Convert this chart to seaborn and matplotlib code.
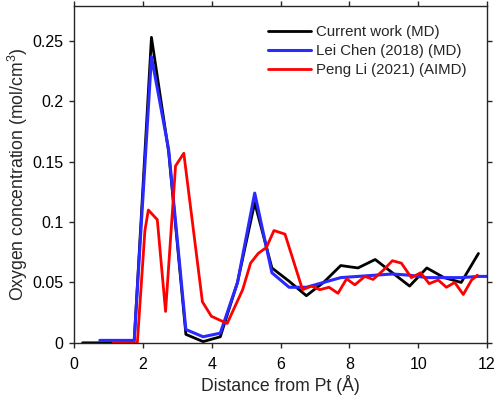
import matplotlib
matplotlib.use("Agg")
import matplotlib.pyplot as plt
import seaborn as sns
import pandas as pd

# ---- data ----
x_current = [0.25, 0.75, 1.25, 1.75, 2.25, 2.75, 3.25, 3.75, 4.25, 4.75, 5.25, 5.75,
             6.25, 6.75, 7.25, 7.75, 8.25, 8.75, 9.25, 9.75, 10.25, 10.75, 11.25, 11.75]
y_current = [0.0, 0.0, 0.0, 0.002, 0.253, 0.158, 0.007, 0.001, 0.005, 0.050, 0.116, 0.062,
             0.051, 0.039, 0.050, 0.064, 0.062, 0.069, 0.058, 0.047, 0.062, 0.054, 0.050, 0.074]

x_leichen = [0.75, 1.25, 1.75, 2.25, 2.75, 3.25, 3.75, 4.25, 4.75, 5.25, 5.75, 6.25,
             6.75, 7.25, 7.75, 8.25, 8.75, 9.25, 9.75, 10.25, 10.75, 11.25, 11.75, 12.0]
y_leichen = [0.002, 0.002, 0.002, 0.237, 0.160, 0.011, 0.005, 0.008, 0.050, 0.124, 0.058, 0.046,
             0.046, 0.050, 0.054, 0.055, 0.056, 0.057, 0.056, 0.054, 0.054, 0.054, 0.055, 0.055]

x_pengli = [1.14, 1.84, 2.06, 2.16, 2.42, 2.66, 2.95, 3.19, 3.73, 3.99, 4.45, 4.90, 5.13,
            5.35, 5.59, 5.81, 6.13, 6.64, 6.90, 7.14, 7.41, 7.67, 7.92, 8.16, 8.45, 8.69,
            8.98, 9.25, 9.51, 9.80, 10.07, 10.32, 10.58, 10.82, 11.06, 11.31, 11.55, 11.72]
y_pengli = [0.0, 0.0, 0.093, 0.110, 0.102, 0.026, 0.1465, 0.157, 0.034, 0.022, 0.016, 0.044,
            0.066, 0.074, 0.079, 0.093, 0.090, 0.044, 0.047, 0.044, 0.046, 0.041, 0.053, 0.048,
            0.055, 0.0525, 0.060, 0.068, 0.066, 0.054, 0.058, 0.049, 0.052, 0.046, 0.050, 0.040,
            0.052, 0.056]

series_labels = ["Current work (MD)", "Lei Chen (2018) (MD)", "Peng Li (2021) (AIMD)"]
series_colors = ["#000000", "#2a2aff", "#ff0000"]

x_ticks = [0, 2, 4, 6, 8, 10, 12]
y_ticks = [0, 0.05, 0.1, 0.15, 0.2, 0.25]
y_ticklabels = ["0", "0.05", "0.1", "0.15", "0.2", "0.25"]

# ---- style ----
sns.set_theme(style="ticks")
plt.rcParams["font.family"] = ["Liberation Sans", "DejaVu Sans"]
plt.rcParams["mathtext.fontset"] = "custom"
plt.rcParams["mathtext.rm"] = "Liberation Sans"
plt.rcParams["mathtext.it"] = "Liberation Sans"
plt.rcParams["axes.linewidth"] = 1.0
plt.rcParams["xtick.direction"] = "out"
plt.rcParams["ytick.direction"] = "out"

fig = plt.figure(figsize=(4.98, 3.97), dpi=100)
ax = fig.add_axes([0.1486, 0.1365, 0.8294, 0.8485])

df = pd.concat([
    pd.DataFrame({"x": x_current, "y": y_current, "series": series_labels[0]}),
    pd.DataFrame({"x": x_leichen, "y": y_leichen, "series": series_labels[1]}),
    pd.DataFrame({"x": x_pengli, "y": y_pengli, "series": series_labels[2]}),
], ignore_index=True)

for lab, col, lw in zip(series_labels, series_colors, [2.0, 2.2, 2.0]):
    sub = df[df["series"] == lab]
    sns.lineplot(data=sub, x="x", y="y", color=col, lw=lw, label=lab, ax=ax,
                 estimator=None, sort=False)

ax.set_xlim(0, 12)
ax.set_ylim(0, 0.279)
ax.set_xticks(x_ticks)
ax.set_xticklabels([str(t) for t in x_ticks])
ax.set_yticks(y_ticks)
ax.set_yticklabels(y_ticklabels)
ax.tick_params(axis="both", which="both", labelsize=11.5, length=3.5, width=1.0,
               top=True, right=True, colors="#262626", labelcolor="black")
ax.tick_params(axis="x", pad=6.5)
ax.tick_params(axis="y", pad=4)
for s in ax.spines.values():
    s.set_visible(True)
    s.set_color("#262626")

ax.set_xlabel("Distance from Pt (Å)", fontsize=12.7, labelpad=2.5)
ax.set_ylabel("Oxygen concentration (mol/cm$^{3}$)", fontsize=12.7, labelpad=1.5)

leg = ax.legend(loc="upper right", frameon=False, fontsize=10.8, handlelength=2.9,
                handletextpad=0.35, borderaxespad=0.0, labelspacing=0.33,
                bbox_to_anchor=(0.966, 0.96))

fig.savefig("out.png", dpi=100)
